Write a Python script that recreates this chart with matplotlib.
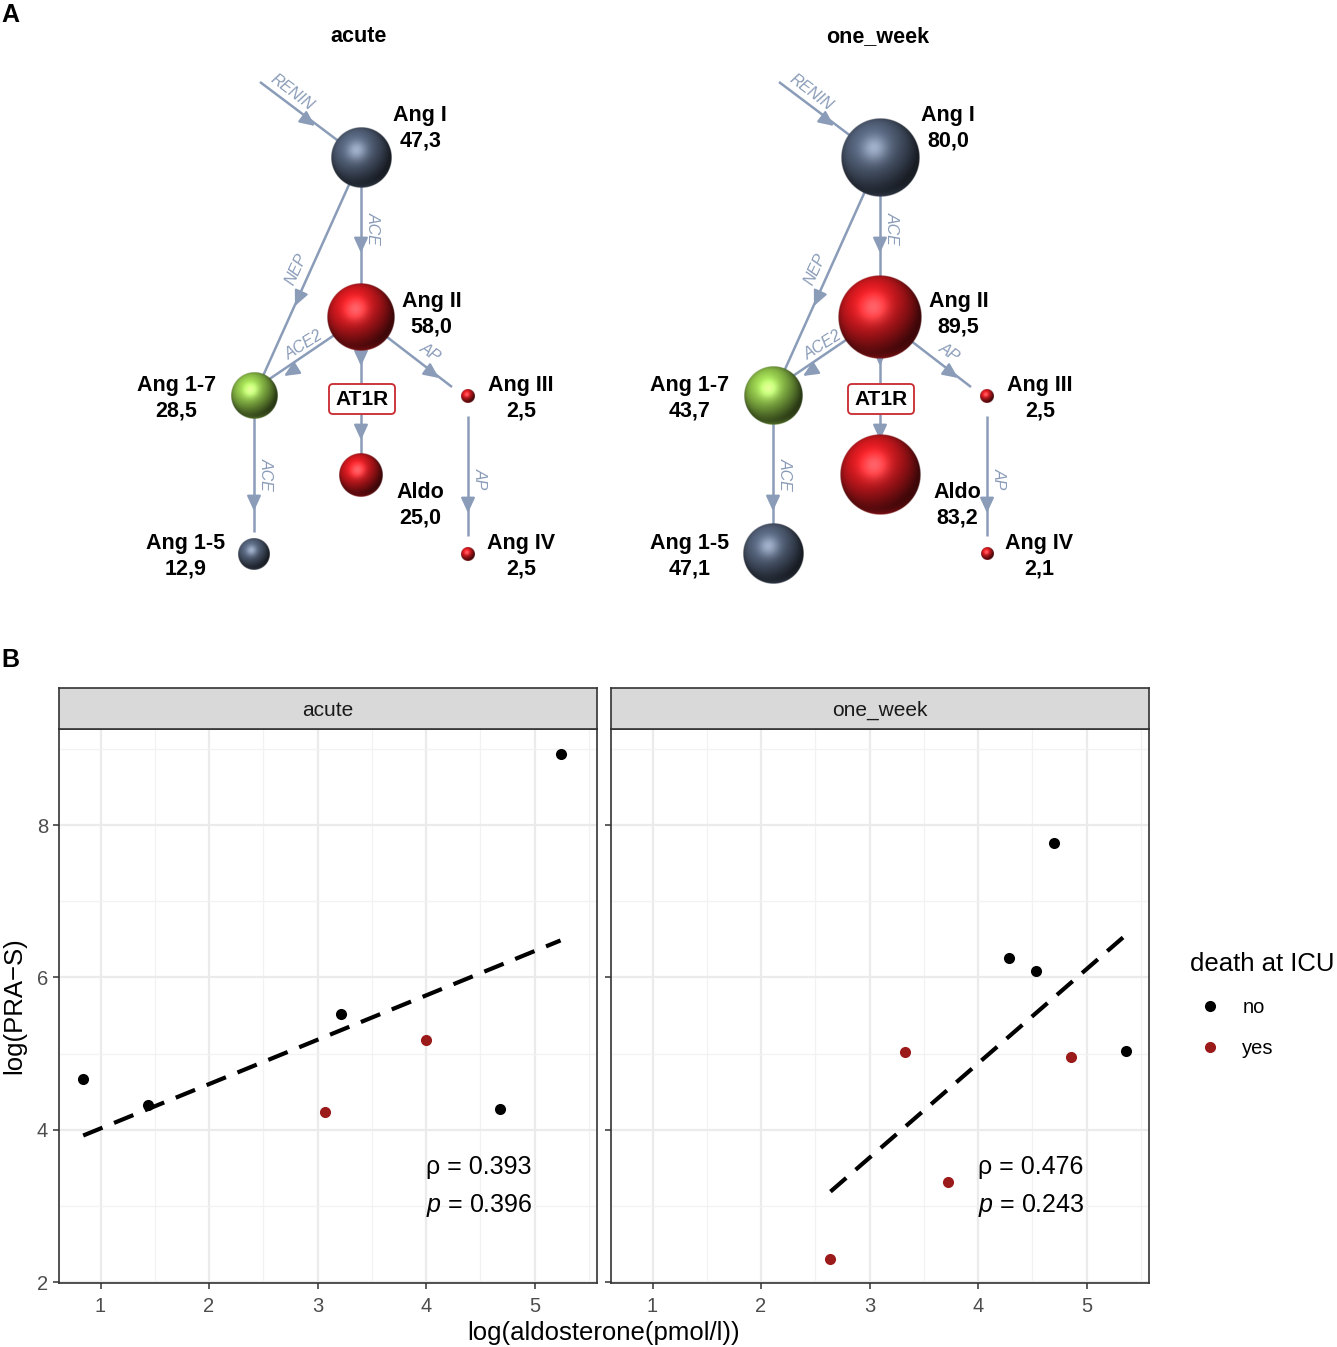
import numpy as np
import matplotlib
matplotlib.use("Agg")
import matplotlib.pyplot as plt
from matplotlib.colors import to_rgb
from matplotlib.patches import FancyBboxPatch
from matplotlib.lines import Line2D

plt.rcParams['font.family'] = ['Liberation Sans', 'DejaVu Sans']
plt.rcParams['mathtext.fontset'] = 'custom'
plt.rcParams['mathtext.rm'] = 'Liberation Sans'
plt.rcParams['mathtext.it'] = 'Liberation Sans:italic'

# ---- panel A data (RAS fingerprint, pmol/l) ----
nodes = ['Ang I', 'Ang II', 'Ang 1-7', 'Ang III', 'Aldo', 'Ang 1-5', 'Ang IV']
acute_conc = [47.3, 58.0, 28.5, 2.5, 25.0, 12.9, 2.5]
week_conc = [80.0, 89.5, 43.7, 2.5, 83.2, 47.1, 2.1]
diagram_titles = ['acute', 'one_week']

# ---- panel B data ----
acute_x = [0.84, 1.44, 3.22, 3.07, 4.00, 4.68, 5.24]
acute_y = [4.67, 4.33, 5.52, 4.24, 5.18, 4.27, 8.93]
acute_death = ['no', 'no', 'no', 'yes', 'yes', 'no', 'no']
week_x = [4.70, 4.29, 4.53, 5.36, 3.33, 4.86, 3.72, 2.64]
week_y = [7.76, 6.26, 6.09, 5.04, 5.02, 4.95, 3.32, 2.30]
week_death = ['no', 'no', 'no', 'no', 'yes', 'yes', 'yes', 'yes']
rho_txt = ['0.393', '0.476']
p_txt = ['0.396', '0.243']

W, H = 1337, 1347
fig = plt.figure(figsize=(W / 100, H / 100), dpi=100)
ax0 = fig.add_axes([0, 0, 1, 1])
ax0.set_xlim(0, W)
ax0.set_ylim(H, 0)
ax0.axis('off')

# layout of the diagram (pixel coords, left copy)
pos = {'Ang I': (361, 158), 'Ang II': (361, 317), 'Ang 1-7': (254, 396),
       'Ang III': (468, 396), 'Aldo': (361, 475), 'Ang 1-5': (254, 554),
       'Ang IV': (468, 554)}
col = {'Ang I': '#56657e', 'Ang II': '#dc1a20', 'Ang 1-7': '#96cc4c',
       'Ang III': '#dc1a20', 'Aldo': '#dc1a20', 'Ang 1-5': '#56657e',
       'Ang IV': '#dc1a20'}
# label: side, extra gap, y of name line
lab = {'Ang I': (1, 29, 116), 'Ang II': (1, 37, 302), 'Ang 1-7': (-1, 54, 386),
       'Ang III': (1, 46, 386), 'Aldo': (1, 37, 493), 'Ang 1-5': (-1, 53, 544),
       'Ang IV': (1, 46, 544)}
K = 4.4  # radius = K*sqrt(conc), area ~ concentration
LC = '#8a9cb8'


def sphere(ax, cx, cy, r, color, n=200):
    t = np.linspace(-1, 1, n)
    X, Y = np.meshgrid(t, t)
    rr = X ** 2 + Y ** 2
    Z = np.sqrt(np.clip(1 - rr, 0, 1))
    L = np.array([-0.3, -0.45, 0.84])
    L = L / np.linalg.norm(L)
    d = np.clip(X * L[0] + Y * L[1] + Z * L[2], 0, 1)
    Hh = L + np.array([0, 0, 1.0])
    Hh = Hh / np.linalg.norm(Hh)
    s = np.clip(X * Hh[0] + Y * Hh[1] + Z * Hh[2], 0, 1) ** 18
    base = np.array(to_rgb(color))
    rgb = base * (0.28 + 0.8 * d ** 1.3)[..., None] + 0.28 * s[..., None]
    # faint bottom reflection
    refl = np.clip(Y, 0, 1) ** 4 * (1 - Z) * 0.35
    rgb = rgb + refl[..., None] * base
    rgb = np.clip(rgb, 0, 1)
    a = np.clip((1 - np.sqrt(rr)) * n / 2.5, 0, 1)
    img = np.dstack([rgb, a])
    ax.imshow(img, extent=(cx - r, cx + r, cy + r, cy - r), origin='upper',
              zorder=4, interpolation='bilinear')


def arrow(ax, tip, d):
    d = np.array(d, float)
    d = d / np.linalg.norm(d)
    start = np.array(tip) - d * 12
    ax.annotate('', xy=tip, xytext=start,
                arrowprops=dict(arrowstyle='-|>,head_length=0.65,head_width=0.3',
                                color=LC, lw=1.6, mutation_scale=14,
                                shrinkA=0, shrinkB=0), zorder=3)


def line(ax, p, q):
    ax.plot([p[0], q[0]], [p[1], q[1]], color=LC, lw=1.8, zorder=2,
            solid_capstyle='butt')


def etext(ax, x, y, s, rot):
    ax.text(x, y, s, color=LC, fontsize=11.5, rotation=rot, ha='center',
            va='center', rotation_mode='anchor', zorder=3, style='italic')


for k, (title, conc) in enumerate(zip(diagram_titles, [acute_conc, week_conc])):
    ox = 519 * k
    P = {nm: (pos[nm][0] + ox, pos[nm][1]) for nm in nodes}
    ax0.text(359 + ox, 37, title, fontsize=15.5, fontweight='bold',
             ha='center', va='center')
    # edges
    line(ax0, (260 + ox, 82), P['Ang I'])
    arrow(ax0, (315 + ox, 126), (101, 76))
    etext(ax0, 292 + ox, 92, 'RENIN', -37)
    line(ax0, P['Ang I'], P['Ang II'])
    arrow(ax0, (361 + ox, 253), (0, 1))
    etext(ax0, 373 + ox, 228, 'ACE', -90)
    line(ax0, P['Ang I'], P['Ang 1-7'])
    arrow(ax0, (295 + ox, 306), (-107, 238))
    etext(ax0, 296 + ox, 269, 'NEP', 65)
    line(ax0, P['Ang II'], (268 + ox, 380))
    arrow(ax0, (284 + ox, 376), (-93, 58))
    etext(ax0, 304 + ox, 345, 'ACE2', 32)
    line(ax0, P['Ang II'], (452 + ox, 387))
    arrow(ax0, (439 + ox, 378), (91, 66))
    etext(ax0, 430 + ox, 352, 'AP', -35)
    line(ax0, P['Ang II'], (361 + ox, 383))
    arrow(ax0, (361 + ox, 366), (0, 1))
    line(ax0, (361 + ox, 414), P['Aldo'])
    arrow(ax0, (361 + ox, 440), (0, 1))
    line(ax0, (468 + ox, 416), (468 + ox, 536))
    arrow(ax0, (468 + ox, 513), (0, 1))
    etext(ax0, 480 + ox, 479, 'AP', -90)
    line(ax0, P['Ang 1-7'], (254 + ox, 532))
    arrow(ax0, (254 + ox, 511), (0, 1))
    etext(ax0, 266 + ox, 474, 'ACE', -90)
    # AT1R box
    bx = FancyBboxPatch((329 + ox, 384), 66, 30, boxstyle='round,pad=0,rounding_size=4',
                        fc='white', ec='#c8282e', lw=1.3, zorder=5)
    ax0.add_patch(bx)
    ax0.text(362 + ox, 399.5, 'AT1R', fontsize=15, fontweight='bold',
             ha='center', va='center', zorder=6)
    # spheres and labels
    for nm, v in zip(nodes, conc):
        r = K * np.sqrt(v)
        cx, cy = P[nm]
        sphere(ax0, cx, cy, r, col[nm])
        side, gap, ly = lab[nm]
        lx = cx + side * (r + gap)
        ax0.text(lx, ly, nm, fontsize=15.5, fontweight='bold', ha='center', va='center')
        ax0.text(lx, ly + 25, f'{v:.1f}'.replace('.', ','), fontsize=15.5,
                 fontweight='bold', ha='center', va='center')

ax0.set_xlim(0, W)
ax0.set_ylim(H, 0)
ax0.set_aspect('auto')
ax0.text(10, 15, 'A', fontsize=18, fontweight='bold', ha='center', va='center')
ax0.text(10, 660, 'B', fontsize=18, fontweight='bold', ha='center', va='center')


# ---- panel B ----
def fax(x0, y0, x1, y1):
    return [x0 / W, 1 - y1 / H, (x1 - x0) / W, (y1 - y0) / H]


pal = {'no': '#000000', 'yes': '#9b1a1a'}
panels = [('acute', acute_x, acute_y, acute_death, 59, 597),
          ('one_week', week_x, week_y, week_death, 611, 1149)]
for i, (name, xs, ys, dth, x0, x1) in enumerate(panels):
    ax = fig.add_axes(fax(x0, 729, x1, 1283))
    ax.set_xticks([1, 2, 3, 4, 5])
    ax.set_xticks(np.arange(1.5, 6, 1), minor=True)
    ax.set_yticks([2, 4, 6, 8])
    ax.set_yticks([3, 5, 7, 9], minor=True)
    ax.set_xlim(0.617, 5.576)
    ax.set_ylim(1.99, 9.26)
    ax.grid(which='major', color='#ebebeb', lw=1.6)
    ax.grid(which='minor', color='#f2f2f2', lw=0.9)
    ax.set_axisbelow(True)
    for sp in ax.spines.values():
        sp.set_color('#333333')
        sp.set_linewidth(1.2)
    ax.tick_params(which='major', length=4, color='#333333', labelsize=14.5,
                   labelcolor='#4d4d4d', width=1.1, pad=4)
    ax.tick_params(axis='x', pad=6)
    ax.tick_params(which='minor', length=0)
    if i == 1:
        ax.tick_params(axis='y', labelleft=False)
    xs_a = np.array(xs)
    ys_a = np.array(ys)
    for g in ['no', 'yes']:
        m = np.array(dth) == g
        ax.scatter(xs_a[m], ys_a[m], s=64, color=pal[g], lw=0, zorder=3, label=g)
    b, a = np.polyfit(xs_a, ys_a, 1)
    xx = np.array([xs_a.min(), xs_a.max()])
    ax.plot(xx, a + b * xx, color='black', lw=3, ls=(0, (5, 3)), zorder=2)
    ax.text(4.0, 3.51, '\u03c1 = ' + rho_txt[i], fontsize=18, ha='left', va='center')
    ax.text(4.0, 3.01, '$p$ = ' + p_txt[i], fontsize=18, ha='left', va='center')
    st = fig.add_axes(fax(x0, 688, x1, 729))
    st.set_facecolor('#d9d9d9')
    st.set_xticks([])
    st.set_yticks([])
    for sp in st.spines.values():
        sp.set_color('#333333')
        sp.set_linewidth(1.2)
    st.text(0.5, 0.46, name, fontsize=15, color='#1a1a1a', ha='center',
            va='center', transform=st.transAxes)

fig.text(604 / W, 1 - 1333 / H, 'log(aldosterone(pmol/l))', fontsize=18.5,
         ha='center', va='center')
fig.text(14 / W, 1 - 1006 / H, 'log(PRA\u2212S)', fontsize=18.5, rotation=90,
         ha='center', va='center')

handles = [Line2D([], [], ls='', marker='o', ms=8, mfc=pal[g], mec='none', label=g)
           for g in ['no', 'yes']]
fig.legend(handles=handles, title='death at ICU', loc='upper left',
           bbox_to_anchor=(1180 / W, 1 - 942 / H), frameon=False, fontsize=14.5,
           title_fontsize=18.5, handletextpad=0.6, labelspacing=1.1,
           alignment='left', borderpad=0)

fig.savefig('out.png', dpi=100)
